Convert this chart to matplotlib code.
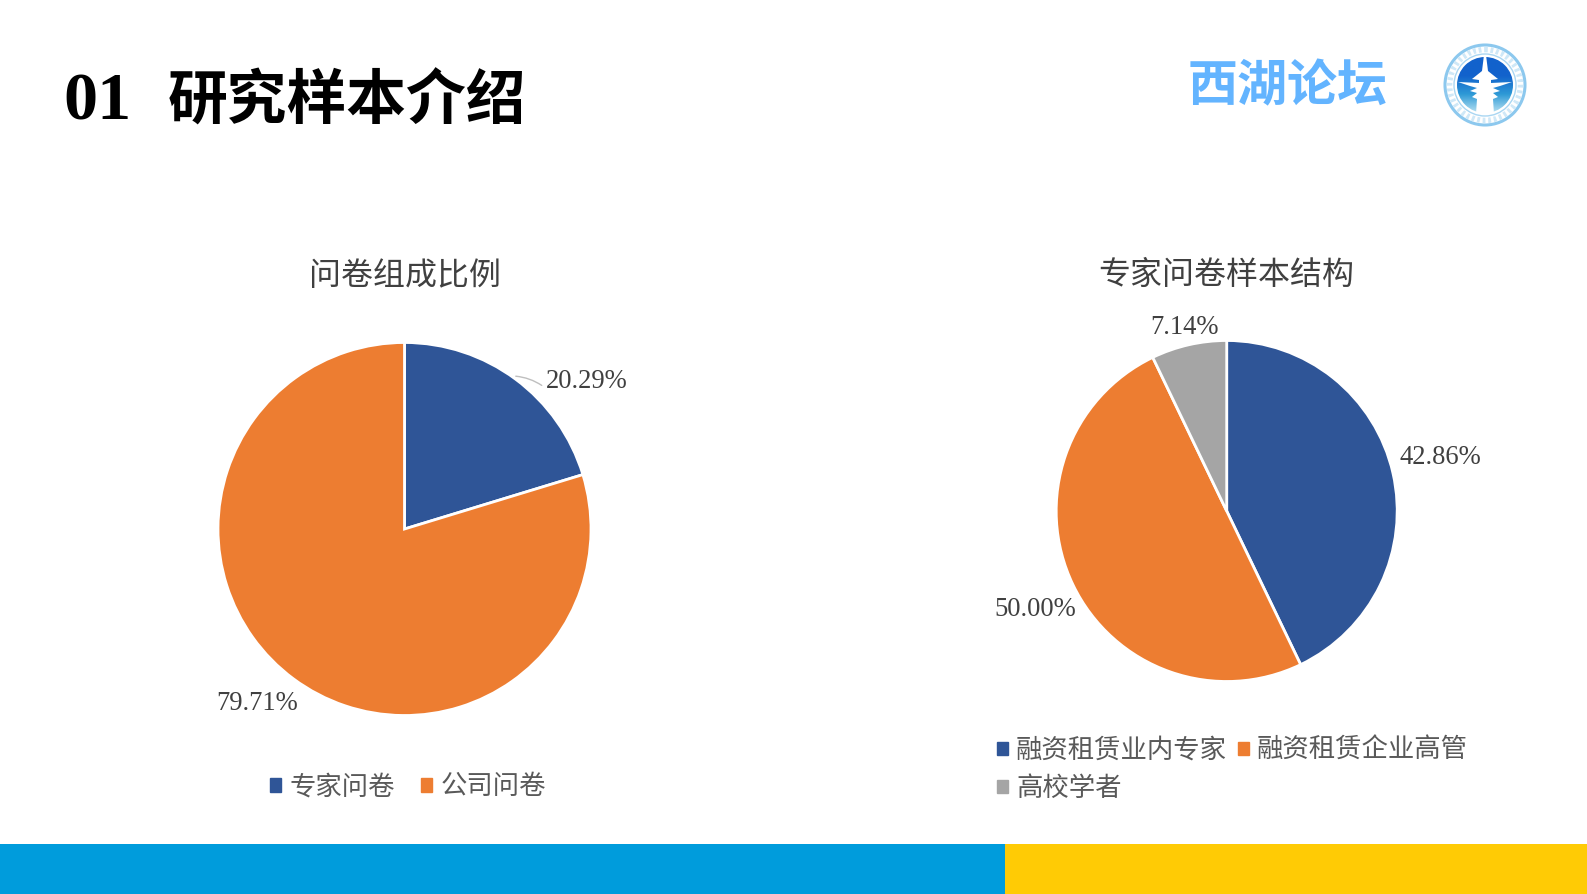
import numpy as np
import matplotlib
matplotlib.use("Agg")
import matplotlib.pyplot as plt
from matplotlib.patches import Circle, Patch, Polygon, Rectangle

SERIF = ["Liberation Serif", "Noto Sans CJK SC"]
CJK = ["Noto Sans CJK SC", "DejaVu Sans"]

# chart data
left_title = "问卷组成比例"
left_names = ["专家问卷", "公司问卷"]
left_values = [20.29, 79.71]

right_title = "专家问卷样本结构"
right_names = ["融资租赁业内专家", "融资租赁企业高管", "高校学者"]
right_values = [42.86, 50.00, 7.14]

colors = ["#2F5597", "#ED7D31", "#A5A5A5"]
W, H = 1587, 894


def make_pie(fig, cx, cy, r, values):
    # axes box is the pie's bounding box, in pixels from the top left
    ax = fig.add_axes([(cx - r) / W, 1 - (cy + r) / H, 2 * r / W, 2 * r / H])
    ax.pie(values, colors=colors[:len(values)], startangle=90, counterclock=False,
           radius=1, wedgeprops={"edgecolor": "white", "linewidth": 2})
    ax.set_xlim(-1, 1)
    ax.set_ylim(-1, 1)
    return ax


def pct(v):
    return f"{v:.2f}%"


def label(ax, x, y, s):
    ax.text(x, y, s, family=SERIF, fontsize=19.2, color="#404040", ha="center", va="center")


fig = plt.figure(figsize=(W / 100, H / 100), dpi=100, facecolor="white")

# background layer in pixel coordinates
bg = fig.add_axes([0, 0, 1, 1])
bg.set_xlim(0, W)
bg.set_ylim(H, 0)
bg.axis("off")

# footer bands
bg.add_patch(Rectangle((0, 844), 1005, 50, color="#009CDC", lw=0))
bg.add_patch(Rectangle((1005, 844), W - 1005, 50, color="#FFCB05", lw=0))

# heading
bg.text(63, 103, "01", family=SERIF, weight="bold", fontsize=49, color="black",
        ha="left", va="center")
bg.text(168, 103, "研究样本介绍", family=CJK, weight="bold", fontsize=43, color="black",
        ha="left", va="center")

# logo text
bg.text(1288, 87, "西湖论坛", family=CJK, weight="black", fontsize=36, color="#63B4FF",
        ha="center", va="center")

# emblem
ex, ey = 1485, 85
bg.add_patch(Circle((ex, ey), 40, fc="white", ec="#8CC8EE", lw=2.2))
bg.add_patch(Circle((ex, ey), 35.5, fc="none", ec="#CFE8F7", lw=4, ls=(0, (0.5, 0.5))))
bg.add_patch(Circle((ex, ey), 31, fc="none", ec="#A9D6F2", lw=1))
disc = Circle((ex, ey), 28, fc="none", ec="none")
bg.add_patch(disc)
grad = np.linspace(0, 1, 64).reshape(-1, 1)
cmap = matplotlib.colors.LinearSegmentedColormap.from_list(
    "emblem", ["#1262CC", "#1262CC", "#2E9AD6", "#B5E0F2"])
im = bg.imshow(grad, cmap=cmap, extent=(ex - 28, ex + 28, ey + 28, ey - 28), aspect="auto", zorder=2)
im.set_clip_path(disc)
bg.set_xlim(0, W)
bg.set_ylim(H, 0)
tower = [(-1, -30), (-3, -14), (-13, -6), (-6, -5), (-6, -2), (-27, -3), (-15, 1), (-8, 3), (-15, 6),
         (-8, 8), (-13, 12), (-8, 14), (-9, 29), (9, 29), (8, 14), (13, 12), (8, 8), (15, 6), (8, 3),
         (15, 1), (27, -3), (6, -2), (6, -5), (13, -6), (3, -14), (1, -30)]
bg.add_patch(Polygon([(ex + a, ey + b) for a, b in tower], fc="white", ec="none", zorder=3))

# left pie
make_pie(fig, 404.5, 529, 186.5, left_values)
bg.text(404.5, 276, left_title, family=CJK, fontsize=23, color="#404040", ha="center", va="center")
label(bg, 587, 381, pct(left_values[0]))
label(bg, 257, 703, pct(left_values[1]))
bg.annotate("", xy=(513, 376), xytext=(544, 387),
            arrowprops={"arrowstyle": "-", "color": "#BFBFBF", "lw": 1,
                        "connectionstyle": "arc3,rad=0.15"})
fig.legend(handles=[Patch(color=colors[i], label=left_names[i]) for i in range(2)],
           loc="center", bbox_to_anchor=(408 / W, 1 - 787 / H), ncol=2, frameon=False,
           prop={"family": CJK, "size": 19}, labelcolor="#595959",
           handlelength=0.42, handleheight=0.42, handletextpad=0.3, columnspacing=1.0)

# right pie
make_pie(fig, 1226.7, 511, 170.5, right_values)
bg.text(1226, 275, right_title, family=CJK, fontsize=23, color="#404040", ha="center", va="center")
label(bg, 1185, 328, pct(right_values[2]))
label(bg, 1440, 458, pct(right_values[0]))
label(bg, 1035, 609, pct(right_values[1]))
# legend fills by column, so the third name goes second to sit under the first
legend_order = [0, 2, 1]
fig.legend(handles=[Patch(color=colors[i], label=right_names[i]) for i in legend_order],
           loc="upper left", bbox_to_anchor=(997 / W, 1 - 737 / H), ncol=2, frameon=False,
           prop={"family": CJK, "size": 19}, labelcolor="#595959", borderpad=0, borderaxespad=0,
           handlelength=0.42, handleheight=0.42, handletextpad=0.3, columnspacing=0.42, labelspacing=0.42)

fig.savefig("out.png", dpi=100)
